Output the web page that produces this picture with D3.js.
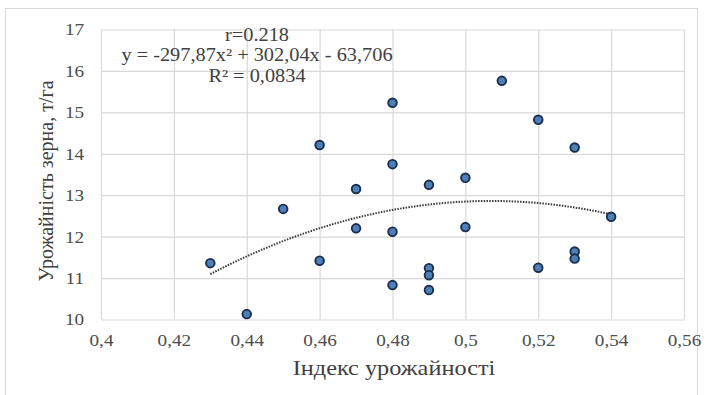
<!DOCTYPE html>
<html>
<head>
<meta charset="utf-8">
<script src="https://cdn.jsdelivr.net/npm/d3@7/dist/d3.min.js"></script>
<style>
  html, body { margin: 0; padding: 0; background: #fff; }
  svg { display: block; }
</style>
</head>
<body>
<svg id="chart" width="711" height="395"></svg>
<script>
// Harvest index (x) vs grain yield, t/ha (y)
const harvestIndex = [0.43, 0.44, 0.45, 0.46, 0.46, 0.47, 0.47, 0.48, 0.48, 0.48, 0.48, 0.49,
                      0.49, 0.49, 0.49, 0.50, 0.50, 0.51, 0.52, 0.52, 0.53, 0.53, 0.53, 0.54];
const grainYield   = [11.36, 10.13, 12.67, 11.42, 14.21, 13.15, 12.20, 15.23, 13.75, 12.12, 10.83, 13.25,
                      11.24, 11.07, 10.71, 13.42, 12.23, 15.76, 14.82, 11.25, 14.15, 11.64, 11.47, 12.48];

// Polynomial trend (2nd order) coefficients: y = a x^2 + b x + c
const trendCoef = [-297.87, 302.04, -63.706];
const trendRange = [0.43, 0.54];

const xTicks = [0.40, 0.42, 0.44, 0.46, 0.48, 0.50, 0.52, 0.54, 0.56];
const yTicks = [10, 11, 12, 13, 14, 15, 16, 17];
const annotation = ["r=0.218", "y = -297,87x\u00B2 + 302,04x - 63,706", "R\u00B2 = 0,0834"];
const xTitle = "Індекс урожайності";
const yTitle = "Урожайність зерна, т/га";

const serif = '"Liberation Serif", serif';
const svg = d3.select("#chart");

// slightly wide lettering for horizontal labels
const wide = sel => sel
  .style("transform-box", "fill-box")
  .style("transform-origin", "center")
  .style("transform", "scaleX(1.13)");

// outer chart frame
svg.append("rect")
  .attr("x", 5.5).attr("y", 8.5).attr("width", 692).attr("height", 400)
  .attr("fill", "#fff").attr("stroke", "#d9d9d9").attr("stroke-width", 1);

const plot = { left: 101, right: 684, top: 29.5, bottom: 319.5 };

const x = d3.scaleLinear().domain([0.40, 0.56]).range([plot.left, plot.right]);
const y = d3.scaleLinear().domain([10, 17]).range([plot.bottom, plot.top]);

const fmt = d => d3.format("~g")(+d.toFixed(2)).replace(".", ",");

// vertical gridlines + x tick labels via axis
const xAxis = d3.axisBottom(x).tickValues(xTicks).tickFormat(fmt)
  .tickSize(-(plot.bottom - plot.top)).tickPadding(14);
const gx = svg.append("g").attr("transform", `translate(0,${plot.bottom})`).call(xAxis);
gx.select(".domain").remove();
gx.selectAll(".tick line").attr("stroke", "#d9d9d9").attr("stroke-width", 1.2);
gx.selectAll(".tick text").style("font-family", serif).style("font-size", "17px")
  .attr("fill", "#4d4d4d").call(wide);

// horizontal gridlines + y tick labels
const yAxis = d3.axisLeft(y).tickValues(yTicks).tickFormat(d3.format("d"))
  .tickSize(-(plot.right - plot.left)).tickPadding(18);
const gy = svg.append("g").attr("transform", `translate(${plot.left},0)`).call(yAxis);
gy.select(".domain").remove();
gy.selectAll(".tick line").attr("stroke", "#d9d9d9").attr("stroke-width", 1.2);
gy.selectAll(".tick text").style("font-family", serif).style("font-size", "17px")
  .attr("fill", "#4d4d4d").call(wide);

// trend curve
const trendX = d3.range(trendRange[0], trendRange[1] + 1e-9, 0.001);
const poly = v => trendCoef[0] * v * v + trendCoef[1] * v + trendCoef[2];
svg.append("path")
  .datum(trendX)
  .attr("fill", "none")
  .attr("stroke", "#3a3a3a")
  .attr("stroke-width", 2)
  .attr("stroke-dasharray", "1.5,1.3")
  .attr("d", d3.line().x(d => x(d)).y(d => y(poly(d))));

// data points
svg.append("g").selectAll("circle")
  .data(harvestIndex.map((h, i) => [h, grainYield[i]]))
  .join("circle")
  .attr("cx", d => x(d[0]))
  .attr("cy", d => y(d[1]))
  .attr("r", 4.3)
  .attr("fill", "#4f7fb8")
  .attr("stroke", "#1b2f4d")
  .attr("stroke-width", 1.9);

// regression annotation
svg.append("g").selectAll("text")
  .data(annotation)
  .join("text")
  .attr("x", 257)
  .attr("y", (d, i) => 41 + i * 20.5)
  .attr("text-anchor", "middle")
  .style("font-family", serif)
  .style("font-size", "18px")
  .attr("fill", "#404040")
  .call(wide)
  .text(d => d);

// axis titles
svg.append("text")
  .attr("x", 394)
  .attr("y", 375)
  .attr("text-anchor", "middle")
  .style("font-family", serif)
  .style("font-size", "21.5px")
  .attr("fill", "#404040")
  .call(wide)
  .text(xTitle);

svg.append("text")
  .attr("transform", "translate(53,181) rotate(-90)")
  .attr("text-anchor", "middle")
  .style("font-family", serif)
  .style("font-size", "20px")
  .attr("fill", "#404040")
  .text(yTitle);
</script>
</body>
</html>
